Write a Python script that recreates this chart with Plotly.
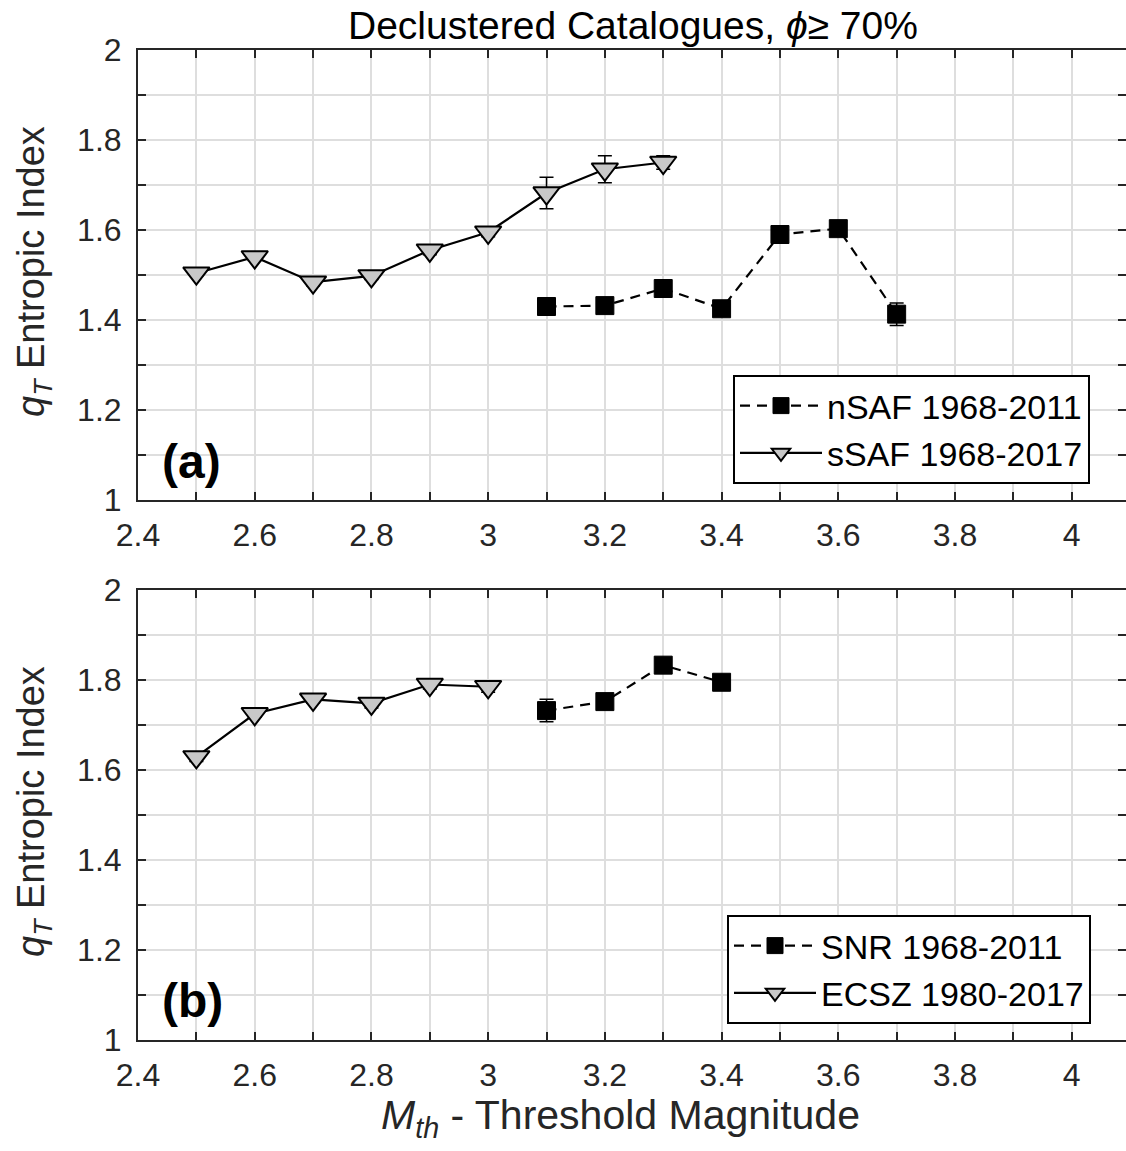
import plotly.graph_objects as go

# ---- data ----
ssaf_x = [2.5, 2.6, 2.7, 2.8, 2.9, 3.0, 3.1, 3.2, 3.3]
ssaf_y = [1.504, 1.540, 1.484, 1.498, 1.555, 1.595, 1.682, 1.735, 1.750]
ssaf_e = [0.006, 0.008, 0.008, 0.008, 0.010, 0.010, 0.035, 0.030, 0.015]

nsaf_x = [3.1, 3.2, 3.3, 3.4, 3.5, 3.6, 3.7]
nsaf_y = [1.430, 1.432, 1.470, 1.425, 1.590, 1.603, 1.413]
nsaf_e = [0.005, 0.005, 0.005, 0.005, 0.005, 0.005, 0.025]

ecsz_x = [2.5, 2.6, 2.7, 2.8, 2.9, 3.0]
ecsz_y = [1.629, 1.725, 1.757, 1.748, 1.790, 1.785]
ecsz_e = [0.010, 0.008, 0.008, 0.010, 0.010, 0.012]

snr_x = [3.1, 3.2, 3.3, 3.4]
snr_y = [1.732, 1.752, 1.833, 1.795]
snr_e = [0.025, 0.008, 0.008, 0.008]

xticks = [2.4, 2.6, 2.8, 3.0, 3.2, 3.4, 3.6, 3.8, 4.0]
xticklabels = ["2.4", "2.6", "2.8", "3", "3.2", "3.4", "3.6", "3.8", "4"]
yticks = [1.0, 1.2, 1.4, 1.6, 1.8, 2.0]
yticklabels = ["1", "1.2", "1.4", "1.6", "1.8", "2"]

W, H = 1126, 1151
FONT = "Liberation Sans, Arial, sans-serif"
TXT = "#262626"

fig = go.Figure()

def sq_trace(x, y, e, name, xa, ya, leg):
    return go.Scatter(
        x=x, y=y, name=name, xaxis=xa, yaxis=ya, legend=leg,
        mode="lines+markers",
        line=dict(color="black", width=2.2, dash="10px,7px"),
        marker=dict(symbol="square", size=18, color="black", line=dict(color="black", width=1)),
        error_y=dict(type="data", array=e, visible=True, color="black", thickness=1.5, width=7),
    )

def tri_trace(x, y, e, name, xa, ya, leg):
    return go.Scatter(
        x=x, y=y, name=name, xaxis=xa, yaxis=ya, legend=leg,
        mode="lines+markers",
        line=dict(color="black", width=2.2),
        marker=dict(symbol="triangle-down", size=23, color="#c8c8c8", line=dict(color="black", width=2)),
        error_y=dict(type="data", array=e, visible=True, color="black", thickness=1.5, width=7),
    )

fig.add_trace(sq_trace(nsaf_x, nsaf_y, nsaf_e, "nSAF 1968-2011", "x", "y", "legend"))
fig.add_trace(tri_trace(ssaf_x, ssaf_y, ssaf_e, "sSAF 1968-2017", "x", "y", "legend"))
fig.add_trace(sq_trace(snr_x, snr_y, snr_e, "SNR 1968-2011", "x2", "y2", "legend2"))
fig.add_trace(tri_trace(ecsz_x, ecsz_y, ecsz_e, "ECSZ 1980-2017", "x2", "y2", "legend2"))

x0 = 138 / W
xdom = [x0, 1.0]
top_dom = [1 - 500 / H, 1 - 50 / H]
bot_dom = [1 - 1040 / H, 1 - 590 / H]

def xax(anchor):
    return dict(
        domain=xdom, anchor=anchor, range=[2.4, 4.093], automargin=False,
        tickvals=xticks, ticktext=xticklabels,
        ticks="inside", ticklen=8, tickwidth=2, tickcolor=TXT,
        showline=True, linecolor=TXT, linewidth=2, mirror="ticks",
        showgrid=True, gridcolor="#dedede", gridwidth=2,
        minor=dict(dtick=0.1, tick0=2.4, showgrid=True, gridcolor="#dedede", gridwidth=2,
                   ticks="inside", ticklen=8, tickcolor=TXT),
        tickfont=dict(size=32, color=TXT, family=FONT),
        ticklabelstandoff=6,
        zeroline=False,
    )

def yax(dom, anchor):
    return dict(
        domain=dom, anchor=anchor, range=[1.0, 2.0], automargin=False,
        tickvals=yticks, ticktext=yticklabels,
        ticks="inside", ticklen=8, tickwidth=2, tickcolor=TXT,
        showline=True, linecolor=TXT, linewidth=2, mirror="ticks",
        showgrid=True, gridcolor="#dedede", gridwidth=2,
        minor=dict(dtick=0.1, tick0=1.0, showgrid=True, gridcolor="#dedede", gridwidth=2,
                   ticks="inside", ticklen=8, tickcolor=TXT),
        tickfont=dict(size=32, color=TXT, family=FONT),
        ticklabelstandoff=8,
        zeroline=False,
    )

legend_common = dict(
    bgcolor="white", bordercolor="black", borderwidth=2,
    font=dict(size=34, color="black", family=FONT),
    xanchor="left", yanchor="top", itemwidth=82, tracegroupgap=0,
)

fig.update_layout(
    width=W, height=H,
    margin=dict(l=0, r=0, t=0, b=0),
    paper_bgcolor="white", plot_bgcolor="white",
    font=dict(family=FONT, color=TXT),
    xaxis=xax("y"),
    yaxis=yax(top_dom, "x"),
    xaxis2=xax("y2"),
    yaxis2=yax(bot_dom, "x2"),
    legend=dict(x=733 / W, y=1 - 375 / H, **legend_common),
    legend2=dict(x=727 / W, y=1 - 915 / H, **legend_common),
    showlegend=True,
)

def ann(text, x, y, size, color=TXT, angle=0, xanchor="center", yanchor="middle"):
    fig.add_annotation(
        text=text, x=x / W, y=1 - y / H, xref="paper", yref="paper", showarrow=False,
        textangle=angle, font=dict(size=size, color=color, family=FONT),
        xanchor=xanchor, yanchor=yanchor,
    )

ann("Declustered Catalogues, <i>ϕ</i>≥ 70%", 633, 25, 39, color="black")
ann("<b>(a)</b>", 160, 462, 48, color="black", xanchor="left")
ann("<b>(b)</b>", 160, 1000, 48, color="black", xanchor="left")
ann("<i>q</i><sub><i>T</i></sub> Entropic Index", 34, 272, 38, angle=-90)
ann("<i>q</i><sub><i>T</i></sub> Entropic Index", 34, 812, 38, angle=-90)
ann("<i>M</i><sub><i>th</i></sub> - Threshold Magnitude", 620, 1118, 41)

fig.write_html("out.html")
